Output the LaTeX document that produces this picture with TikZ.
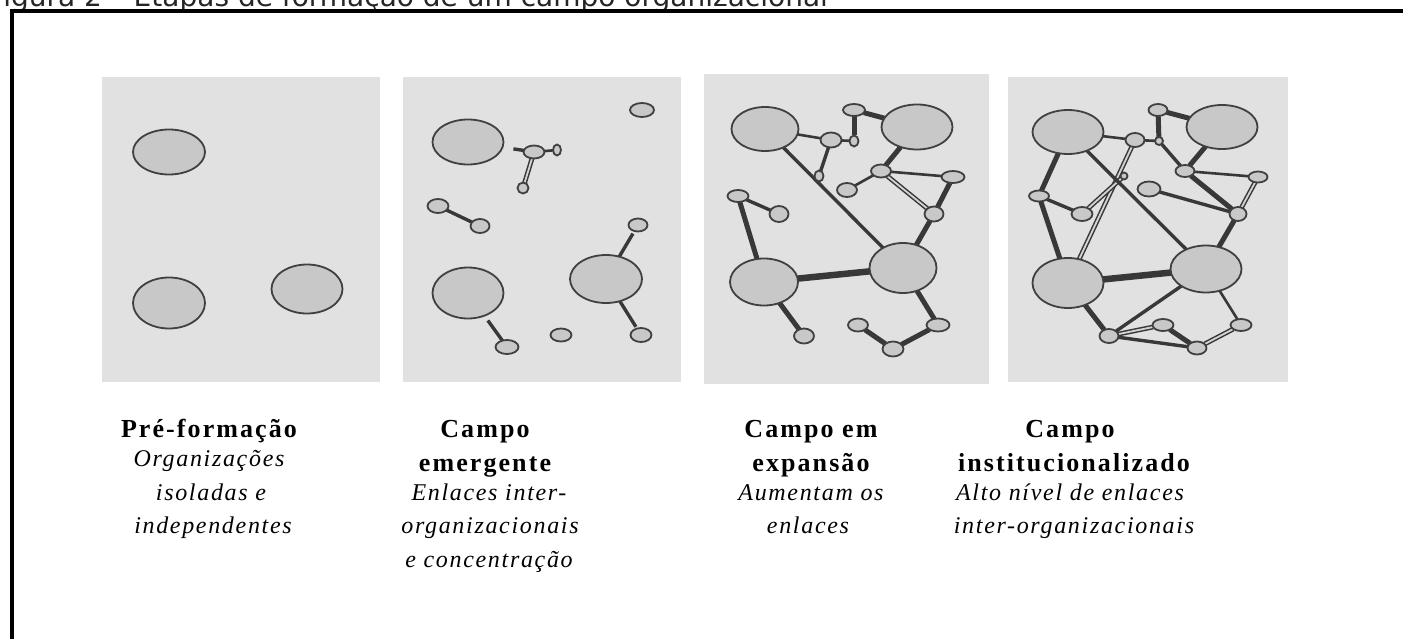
\documentclass[tikz,border=0pt]{standalone}
\usepackage{fontspec}
\usetikzlibrary{shapes.geometric}
\newfontfamily\titlefont{DejaVu Sans}
\newfontfamily\capbfont{Liberation Serif}[LetterSpace=8]
\newfontfamily\capifont{Liberation Serif}[LetterSpace=7]
\definecolor{panelc}{HTML}{E1E1E1}
\definecolor{nodec}{HTML}{C8C8C8}
\definecolor{edgec}{HTML}{404040}
\definecolor{linkc}{HTML}{383838}
\pgfdeclarelayer{bg}
\pgfdeclarelayer{links}
\pgfsetlayers{bg,links,main}
\begin{document}
\begin{tikzpicture}[x=1pt,y=-1pt,
  org/.style={ellipse, draw=edgec, fill=nodec, line width=1.8pt, inner sep=0pt, outer sep=0pt},
  sz/.style 2 args={minimum width=#1pt, minimum height=#2pt},
  panel/.style={fill=panelc, draw=none},
  lk/.style={draw=linkc, line width=3.4pt},
  lkthin/.style={draw=linkc, line width=2.6pt},
  lkthick/.style={draw=linkc, line width=5pt},
  lkheavy/.style={draw=linkc, line width=6.5pt},
  lkdouble/.style={draw=linkc, line width=1.5pt, double=panelc!50!nodec, double distance=1.8pt},
  boldcap/.style={anchor=base, inner sep=0pt, font=\capbfont\bfseries\fontsize{26}{30}\selectfont},
  itcap/.style={anchor=base, inner sep=0pt, font=\capifont\itshape\fontsize{24}{28}\selectfont}]
\useasboundingbox (0,0) rectangle (1403,639);
\clip (0,0) rectangle (1403,639);

% title (cut by the page top, as in the reference) and frame
\node[anchor=base west, inner sep=0pt, font=\titlefont\fontsize{28}{32}\selectfont, text=black!85] (title) at (-11,6.5) {Figura 2 – Etapas de formação de um campo organizacional};
\draw[line width=3.5pt, black, line join=miter] (12,660) -- (12,11) -- (1420,11);

% panels
\begin{pgfonlayer}{bg}
\fill[panel] (102,77) rectangle (380,382);
\fill[panel] (403,77) rectangle (681,382);
\fill[panel] (704,74) rectangle (989,384);
\fill[panel] (1008,77) rectangle (1288,382);
\end{pgfonlayer}

% ---------- panel 1
\node[org, sz={72}{45}] (a1) at (169,152) {};
\node[org, sz={72}{51}] (a2) at (169,303) {};
\node[org, sz={71}{49}] (a3) at (307,289) {};

% ---------- panel 2
\node[org, sz={71}{45}] (bA) at (468,142) {};
\node[org, sz={71}{51}] (bB) at (468,293) {};
\node[org, sz={72}{48}] (bC) at (606,279) {};
\node[org, sz={24}{14}] (bs1) at (642,110) {};
\node[org, sz={21}{13}] (bs2) at (534,152) {};
\node[org, sz={8}{11}]  (bs3) at (557,150) {};
\node[org, sz={11}{11}] (bs4) at (523,188) {};
\node[org, sz={21}{14}] (bs5) at (438,206) {};
\node[org, sz={19}{14}] (bs6) at (480,226) {};
\node[org, sz={19}{13}] (bs7) at (638,225) {};
\node[org, sz={21}{14}] (bs8) at (641,335) {};
\node[org, sz={21}{13}] (bs9) at (561,335) {};
\node[org, sz={23}{14}] (bs10) at (507,347) {};

% ---------- panel 3
\node[org, sz={67}{44}] (cTL) at (765,129) {};
\node[org, sz={71}{45}] (cTR) at (917,127) {};
\node[org, sz={68}{47}] (cBL) at (764,282) {};
\node[org, sz={67}{50}] (cBR) at (903,268) {};
\node[org, sz={22}{12}] (ctop) at (854,110) {};
\node[org, sz={21}{15}] (cn1) at (831,140) {};
\node[org, sz={9}{11}]  (cn2) at (854,141) {};
\node[org, sz={9}{11}]  (cn3) at (819,176) {};
\node[org, sz={20}{13}] (cn4) at (881,171) {};
\node[org, sz={23}{12}] (cn5) at (953,177) {};
\node[org, sz={20}{14}] (cn6) at (847,190) {};
\node[org, sz={19}{15}] (cn7) at (934,214) {};
\node[org, sz={21}{12}] (cn8) at (738,196) {};
\node[org, sz={19}{16}] (cn9) at (779,214) {};
\node[org, sz={20}{15}] (cn10) at (804,336) {};
\node[org, sz={20}{13}] (cn11) at (858,325) {};
\node[org, sz={21}{15}] (cn12) at (893,349) {};
\node[org, sz={23}{13}] (cn13) at (938,325) {};

% ---------- panel 4
\node[org, sz={71}{44}] (dTL) at (1068,132) {};
\node[org, sz={71}{44}] (dTR) at (1222,127) {};
\node[org, sz={71}{50}] (dBL) at (1068,283) {};
\node[org, sz={71}{47}] (dBR) at (1206,269) {};
\node[org, sz={19}{12}] (dtop) at (1158,110) {};
\node[org, sz={19}{14}] (dn1) at (1135,140) {};
\node[org, sz={8}{8}]   (dn2) at (1159,141) {};
\node[org, sz={7}{7}]   (dn3) at (1124,176) {};
\node[org, sz={19}{12}] (dn4) at (1185,171) {};
\node[org, sz={19}{11}] (dn5) at (1258,177) {};
\node[org, sz={23}{15}] (dn6) at (1149,189) {};
\node[org, sz={17}{14}] (dn7) at (1238,214) {};
\node[org, sz={20}{11}] (dn8) at (1039,196) {};
\node[org, sz={21}{14}] (dn9) at (1082,214) {};
\node[org, sz={19}{14}] (dn10) at (1109,336) {};
\node[org, sz={21}{12}] (dn11) at (1163,325) {};
\node[org, sz={19}{13}] (dn12) at (1197,348) {};
\node[org, sz={21}{12}] (dn13) at (1241,325) {};

\begin{pgfonlayer}{links}
% panel 2
\draw[lk, shorten <=11pt] (bA) -- (bs2);
\draw[lkthin] (bs2) -- (bs3);
\draw[lkdouble] (bs2) -- (bs4);
\draw[lk] (bs5) -- (bs6);
\draw[lk, shorten >=3pt] (bC) -- (bs7);
\draw[lk, shorten >=2pt] (bC) -- (bs8);
\draw[lk, shorten <=6pt] (bB) -- (bs10);
% panel 3
\draw[lkthin] (cTL) -- (cn1);
\draw[lkthin] (cn1) -- (cn2);
\draw[lkthick] (ctop) -- (cn2);
\draw[lkthick] (ctop) -- (cTR);
\draw[lk] (cn1) -- (cn3);
\draw[lk] (cTL) -- (cBR);
\draw[lkthick] (cTR) -- (cn4);
\draw[lkthin] (cn4) -- (cn5);
\draw[lkthin] (cn4) -- (cn6);
\draw[lkdouble] (cn4) -- (cn7);
\draw[lkthick] (cn5) -- (cn7);
\draw[lkthick] (cn7) -- (cBR);
\draw[lk] (cn8) -- (cn9);
\draw[lkthick] (cn8) -- (cBL);
\draw[lkheavy] (cBL) -- (cBR);
\draw[lkthick] (cBL) -- (cn10);
\draw[lkthick] (cBR) -- (cn13);
\draw[lkthick] (cn13) -- (cn12);
\draw[lkthick] (cn12) -- (cn11);
% panel 4
\draw[lkthin] (dTL) -- (dn1);
\draw[lkthin] (dn1) -- (dn2);
\draw[lkthick] (dtop) -- (dTR);
\draw[lkthick] (dtop) -- (dn2);
\draw[lk] (dn2) -- (dn4);
\draw[lkthick] (dTR) -- (dn4);
\draw[lkthin] (dn4) -- (dn5);
\draw[lkthick] (dn4) -- (dn7);
\draw[lkdouble] (dn5) -- (dn7);
\draw[lk] (dn6) -- (dn7);
\draw[lkthick] (dn7) -- (dBR);
\draw[lkdouble] (dn1) -- (dBL);
\draw[lkdouble] (dn3) -- (dn9);
\draw[lkthick] (dTL) -- (dn8);
\draw[lk] (dn8) -- (dn9);
\draw[lkthick] (dn8) -- (dBL);
\draw[lk] (dTL) -- (dBR);
\draw[lkheavy] (dBL) -- (dBR);
\draw[lkthick] (dBL) -- (dn10);
\draw[lk] (dBR) -- (dn10);
\draw[lkdouble] (dn10) -- (dn11);
\draw[lk] (dn10) -- (dn12);
\draw[lkthick] (dn11) -- (dn12);
\draw[lkdouble] (dn12) -- (dn13);
\draw[lkthin] (dBR) -- (dn13);
\end{pgfonlayer}

% ---------- captions
\node[boldcap] (t1a) at (209,437) {Pré-formação};
\node[itcap]   (t1b) at (209,466) {Organizações};
\node[itcap]   (t1c) at (211,500) {isoladas e};
\node[itcap]   (t1d) at (213,533) {independentes};

\node[boldcap] (t2a) at (485,437) {Campo};
\node[boldcap] (t2b) at (485,471) {emergente};
\node[itcap]   (t2c) at (489,500) {Enlaces inter-};
\node[itcap]   (t2d) at (490,533) {organizacionais};
\node[itcap]   (t2e) at (489,567) {e concentração};

\node[boldcap] (t3a) at (811,437) {Campo em};
\node[boldcap] (t3b) at (811,471) {expansão};
\node[itcap]   (t3c) at (811,500) {Aumentam os};
\node[itcap]   (t3d) at (808,533) {enlaces};

\node[boldcap] (t4a) at (1070,437) {Campo};
\node[boldcap] (t4b) at (1074,471) {institucionalizado};
\node[itcap]   (t4c) at (1070,500) {Alto nível de enlaces};
\node[itcap]   (t4d) at (1074,533) {inter-organizacionais};
\end{tikzpicture}
\end{document}
